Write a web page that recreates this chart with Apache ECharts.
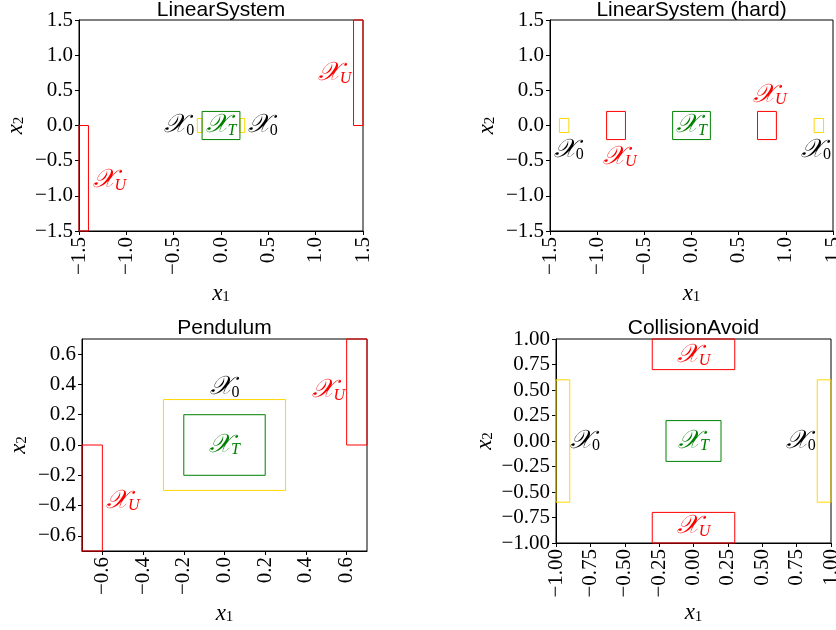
<!DOCTYPE html>
<html>
<head>
<meta charset="utf-8">
<script src="https://cdn.jsdelivr.net/npm/echarts@6/dist/echarts.min.js"></script>
<style>html,body{margin:0;padding:0;background:#fff}#c{width:836px;height:630px}</style>
</head>
<body>
<div id="c"></div>
<script>
// ---------- data ----------
const titles = ['LinearSystem', 'LinearSystem (hard)', 'Pendulum', 'CollisionAvoid'];

const ticks1 = [-1.5, -1.0, -0.5, 0.0, 0.5, 1.0, 1.5];
const ticks2 = [-1.5, -1.0, -0.5, 0.0, 0.5, 1.0, 1.5];
const ticks3 = [-0.6, -0.4, -0.2, 0.0, 0.2, 0.4, 0.6];
const ticks4 = [-1.0, -0.75, -0.5, -0.25, 0.0, 0.25, 0.5, 0.75, 1.0];

const ranges = [[-1.5, 1.5], [-1.5, 1.5], [-0.7, 0.7], [-1.0, 1.0]];
const decimals = [1, 1, 1, 2];

// rectangles: [x0, y0, x1, y1]
const lin_unsafe = [[-1.5, -1.5, -1.4, 0], [1.4, 0, 1.5, 1.5]];
const lin_init = [[-0.25, -0.1, -0.2, 0.1], [0.2, -0.1, 0.25, 0.1]];
const lin_target = [[-0.2, -0.2, 0.2, 0.2]];

const hard_unsafe = [[-0.9, -0.2, -0.7, 0.2], [0.7, -0.2, 0.9, 0.2]];
const hard_init = [[-1.4, -0.1, -1.3, 0.1], [1.3, -0.1, 1.4, 0.1]];
const hard_target = [[-0.2, -0.2, 0.2, 0.2]];

const pend_unsafe = [[-0.7, -0.7, -0.6, 0], [0.6, 0, 0.7, 0.7]];
const pend_init = [[-0.3, -0.3, 0.3, 0.3]];
const pend_target = [[-0.2, -0.2, 0.2, 0.2]];

const coll_unsafe = [[-0.3, 0.7, 0.3, 1.0], [-0.3, -1.0, 0.3, -0.7]];
const coll_init = [[-1.0, -0.6, -0.9, 0.6], [0.9, -0.6, 1.0, 0.6]];
const coll_target = [[-0.2, -0.2, 0.2, 0.2]];

// labels: [x, y, subscript]
const lin_labels = [[-0.44, 0.0, '0'], [0.0, 0.0, 'T'], [0.44, 0.0, '0'], [-1.18, -0.78, 'U'], [1.2, 0.74, 'U']];
const hard_labels = [[-1.3, -0.35, '0'], [-0.76, -0.45, 'U'], [0.0, 0.0, 'T'], [0.83, 0.43, 'U'], [1.32, -0.35, '0']];
const pend_labels = [[0.0, 0.38, '0'], [0.0, 0.0, 'T'], [-0.5, -0.37, 'U'], [0.51, 0.36, 'U']];
const coll_labels = [[0.0, 0.84, 'U'], [0.0, -0.84, 'U'], [-0.79, 0.0, '0'], [0.78, 0.0, '0'], [0.0, 0.0, 'T']];

// ---------- chart ----------
const RED = '#ff0000', GOLD = '#ffd700', GREEN = '#008000';
const plots = [
  {ticks: ticks1, unsafe: lin_unsafe, init: lin_init, target: lin_target, labels: lin_labels},
  {ticks: ticks2, unsafe: hard_unsafe, init: hard_init, target: hard_target, labels: hard_labels},
  {ticks: ticks3, unsafe: pend_unsafe, init: pend_init, target: pend_target, labels: pend_labels},
  {ticks: ticks4, unsafe: coll_unsafe, init: coll_init, target: coll_target, labels: coll_labels}
];
const grids = [
  {left: 79, top: 20, width: 284, height: 211},
  {left: 550, top: 20, width: 283, height: 211},
  {left: 82, top: 339, width: 285, height: 212},
  {left: 556, top: 339, width: 275, height: 204}
];
const titleY = [10, 10, 328, 328];

const serif = 'Liberation Serif';
const fmt = d => v => Number(v).toFixed(d).replace('-', '\u2212');

const xAxis = [], yAxis = [], series = [], graphic = [];
const nameRich = {
  i: {fontFamily: serif, fontStyle: 'italic', fontSize: 23, color: '#000'},
  s: {fontFamily: serif, fontSize: 15, color: '#000', verticalAlign: 'bottom', padding: [8, 0, 0, 0]}
};
const colorOf = s => s === '0' ? '#000' : (s === 'T' ? GREEN : RED);

plots.forEach((p, k) => {
  const [mn, mx] = ranges[k];
  const common = {
    gridIndex: k, type: 'value', min: mn, max: mx,
    axisLine: {show: true, onZero: false, lineStyle: {color: '#000', width: 1}},
    axisTick: {show: true, length: 4, lineStyle: {color: '#000'}, customValues: p.ticks},
    splitLine: {show: false},
    nameLocation: 'middle',
    nameTextStyle: {rich: nameRich}
  };
  xAxis.push(Object.assign({}, common, {
    position: 'bottom',
    name: '{i|x}{s|1}', nameGap: 51,
    axisLabel: {rotate: 90, margin: 6, fontFamily: serif, fontSize: 21, color: '#000', formatter: fmt(decimals[k]), customValues: p.ticks}
  }));
  yAxis.push(Object.assign({}, common, {
    position: 'left',
    name: '{i|x}{s|2}', nameGap: k === 3 ? 60 : 52,
    axisLabel: {margin: 6, fontFamily: serif, fontSize: 21, color: '#000', formatter: fmt(decimals[k]), customValues: p.ticks}
  }));
  const rectSeries = (data, color) => ({
    type: 'custom', xAxisIndex: k, yAxisIndex: k, data: data, clip: false, silent: true,
    renderItem: (params, api) => {
      const a = api.coord([api.value(0), api.value(1)]);
      const b = api.coord([api.value(2), api.value(3)]);
      return {
        type: 'rect',
        shape: {x: Math.min(a[0], b[0]), y: Math.min(a[1], b[1]), width: Math.abs(b[0] - a[0]), height: Math.abs(b[1] - a[1])},
        style: {fill: 'none', stroke: color, lineWidth: 1}
      };
    }
  });
  series.push(rectSeries(p.unsafe, RED));
  series.push(rectSeries(p.init, GOLD));
  series.push(rectSeries(p.target, GREEN));
  series.push({
    type: 'custom', xAxisIndex: k, yAxisIndex: k, data: p.labels, clip: false, silent: true, z: 5,
    encode: {x: 0, y: 1},
    renderItem: (params, api) => {
      const pt = api.coord([api.value(0), api.value(1)]);
      const sub = p.labels[params.dataIndex][2];
      const c = colorOf(sub);
      return {
        type: 'text', x: pt[0], y: pt[1],
        style: {
          text: '{m|\uD835\uDCB3}{s|' + sub + '}',
          align: 'center', verticalAlign: 'middle',
          rich: {
            m: {fontFamily: 'DejaVu Serif', fontStyle: 'italic', fontSize: 26, fill: c, color: c},
            s: {fontFamily: serif, fontStyle: sub === '0' ? 'normal' : 'italic', fontSize: 16, fill: c, color: c, verticalAlign: 'bottom', padding: [10, 0, 0, 0]}
          }
        }
      };
    }
  });
  graphic.push({
    type: 'text', x: grids[k].left + grids[k].width / 2, y: titleY[k],
    style: {text: titles[k], font: '21px "Liberation Sans"', fill: '#000', align: 'center', verticalAlign: 'middle'}
  });
});

const chart = echarts.init(document.getElementById('c'), null, {renderer: 'canvas'});
chart.setOption({
  backgroundColor: '#fff',
  animation: false,
  grid: grids.map(g => Object.assign({show: true, borderColor: '#000', borderWidth: 1, containLabel: false, outerBoundsMode: 'none'}, g)),
  xAxis: xAxis,
  yAxis: yAxis,
  series: series,
  graphic: graphic
});
</script>
</body>
</html>
